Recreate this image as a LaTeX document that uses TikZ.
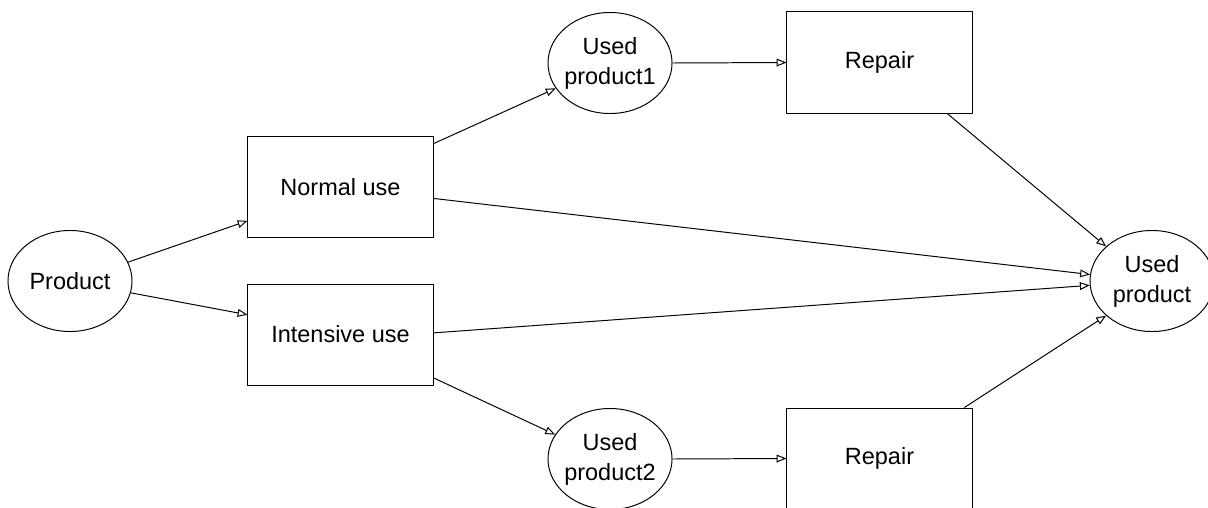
\documentclass[tikz,border=0pt]{standalone}
\usepackage{fontspec}
\setmainfont{Liberation Sans}
\usetikzlibrary{arrows.meta,shapes.geometric}
\begin{document}
\begin{tikzpicture}[x=.025cm,y=-.025cm,line width=.7pt,line join=round,
		>={Triangle[open,length=7pt,width=5.5pt]},
		font=\fontsize{16.7}{21.3}\selectfont,
		box/.style={draw,rectangle,align=center,minimum width=4.625cm,minimum height=2.525cm},
		oval/.style={draw,ellipse,align=center,inner xsep=-1.5pt,inner ysep=0pt,minimum width=3.1cm,minimum height=2.525cm}]
			\useasboundingbox (0,0) rectangle (1208,507);
			\clip (0,0) rectangle (1208,507);
					\node[oval] (prod) at (70,281) {Product};
					\node[box] (normal) at (340.5,187) {Normal use};
					\node[box] (intens) at (340.5,334.5) {Intensive use};
					\node[oval] (used1) at (610,63) {Used\\product1};
					\node[oval] (used2) at (610,459) {Used\\product2};
					\node[box] (rep1) at (879.5,62.5) {Repair};
					\node[box] (rep2) at (879.5,458.5) {Repair};
					\node[oval] (usedp) at (1152,281) {Used\\product};
					% arrows
					\draw[->] (prod.18)--(normal.200);
					\draw[->] (prod.-11)--(intens.168);
					\draw[->] (normal.25)--(used1.205);
					\draw[->] (intens.-25)--(used2.156);
					\draw[->] (used1.east)--(rep1.west);
					\draw[->] (used2.east)--(rep2.west);
					\draw[->] (rep1.-37)--(usedp.143);
					\draw[->] (normal.-7)--(usedp.174);
					\draw[->] (intens.1)--(usedp.184);
					\draw[->] (rep2.31)--(usedp.217);
			\end{tikzpicture}
\end{document}
